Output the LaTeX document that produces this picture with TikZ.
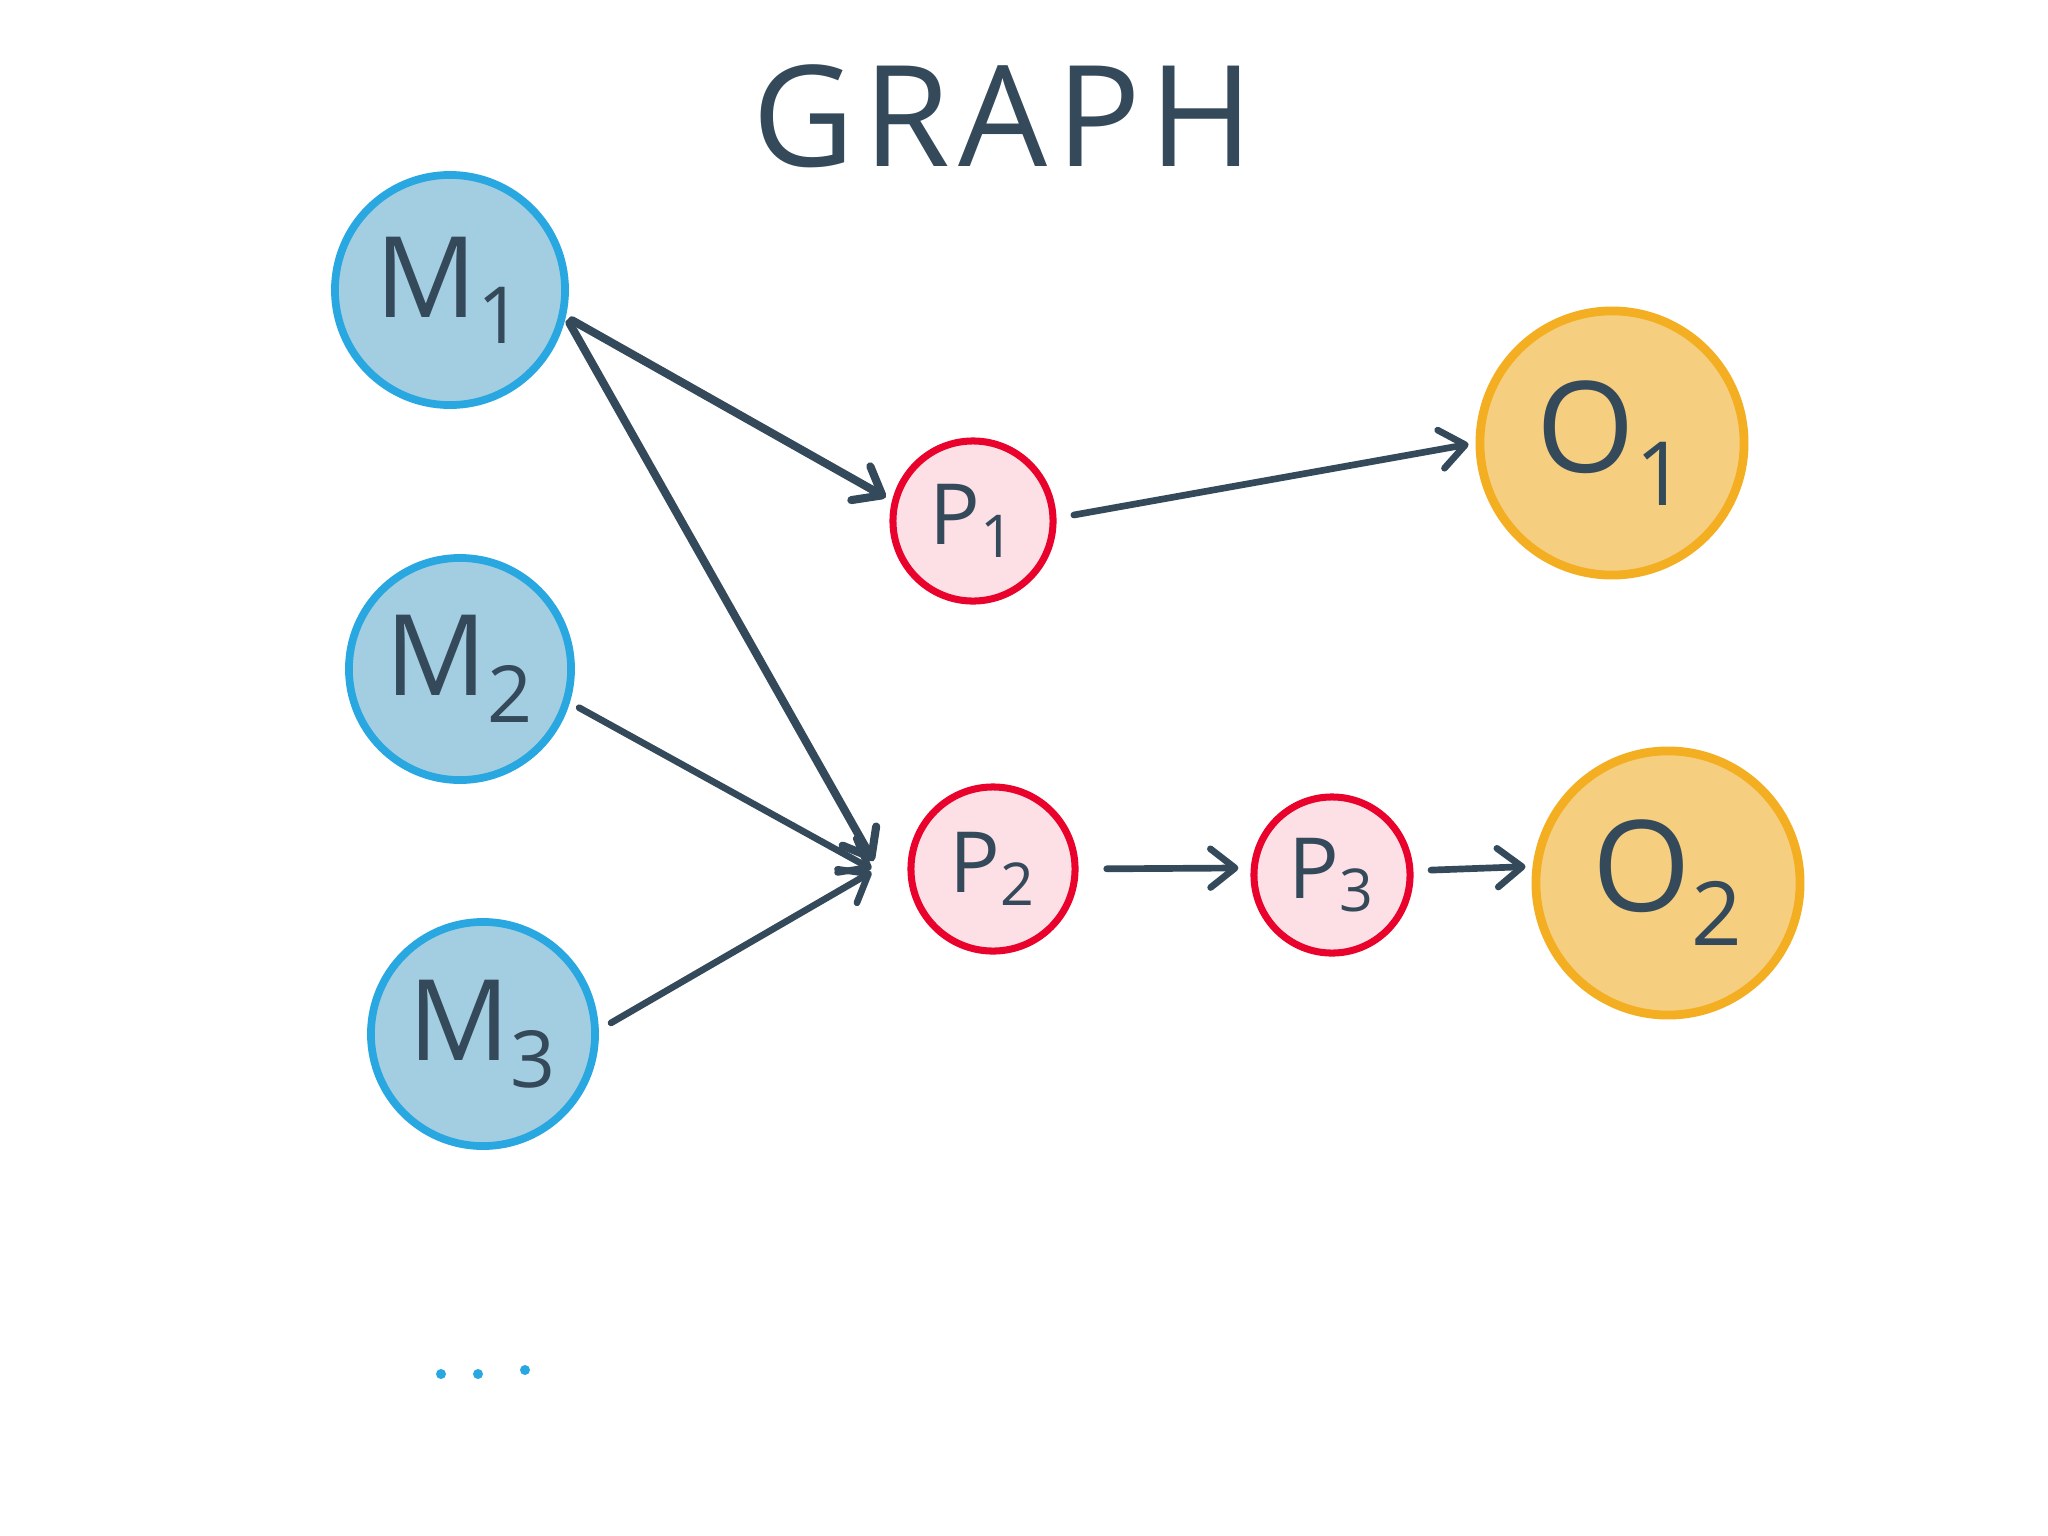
\documentclass[tikz,border=0pt]{standalone}
\usepackage{fontspec}
\setmainfont{Open Sans}
\newfontfamily\titlefont[LetterSpace=6]{Open Sans}
\usetikzlibrary{arrows.meta}
\definecolor{mfill}{HTML}{A3CDE0}
\definecolor{mline}{HTML}{29A7E1}
\definecolor{pfill}{HTML}{FCE0E5}
\definecolor{pline}{HTML}{E8022C}
\definecolor{ofill}{HTML}{F5CF7F}
\definecolor{oline}{HTML}{F4AE22}
\definecolor{ink}{HTML}{34495A}
\tikzset{
  mnode/.style={circle, draw=mline, fill=mfill, line width=2.2pt, inner sep=0pt, text=ink, font=\fontsize{32}{36}\selectfont},
  pnode/.style={circle, draw=pline, fill=pfill, line width=2pt, inner sep=0pt, text=ink, font=\fontsize{24}{28}\selectfont},
  onode/.style={circle, draw=oline, fill=ofill, line width=2.5pt, inner sep=0pt, text=ink, font=\fontsize{36}{40}\selectfont},
  link/.style={draw=ink, line width=1.9pt, line cap=round, -{Straight Barb[length=7pt, width=11pt, line cap=round, line join=round]}},
  dotnode/.style={circle, fill=mline, inner sep=0pt, minimum size=0.1cm},
}
\begin{document}
\begin{tikzpicture}[x=0.01cm, y=-0.01cm]
\fill[white] (0,0) rectangle (2048,1536);
\useasboundingbox (0,0) rectangle (2048,1536);

\node[text=ink, font=\titlefont\fontsize{40}{44}\selectfont] (title) at (1003,116) {GRAPH};

\node[mnode, minimum size=2.30cm] (M1) at (450,290) {M\textsubscript{1}};
\node[mnode, minimum size=2.22cm] (M2) at (460,669) {M\textsubscript{2}};
\node[mnode, minimum size=2.24cm] (M3) at (483,1034) {M\textsubscript{3}};

\node[pnode, minimum size=1.60cm] (P1) at (973,521) {P\textsubscript{1}};
\node[pnode, minimum size=1.64cm] (P2) at (993,869) {P\textsubscript{2}};
\node[pnode, minimum size=1.56cm] (P3) at (1332,875) {P\textsubscript{3}};

\node[onode, minimum size=2.64cm] (O1) at (1612,443) {O\textsubscript{1}};
\node[onode, minimum size=2.64cm] (O2) at (1668,883) {O\textsubscript{2}};

\node[dotnode] (d1) at (441,1374) {};
\node[dotnode] (d2) at (478,1374) {};
\node[dotnode] (d3) at (525,1370) {};

\draw[link, line width=2.3pt, shorten <=2pt, shorten >=2pt] (M1.-13) -- (P1.166);
\draw[link, line width=2.3pt, shorten <=2pt] (M1.-13) -- ([xshift=-0.34cm, yshift=0.08cm]P2.west);
\draw[link, shorten <=3pt] (M2.-17) -- ([xshift=-0.36cm]P2.west);
\draw[link, shorten <=4pt] (M3.2) -- ([xshift=-0.36cm, yshift=-0.03cm]P2.west);
\draw[link, shorten <=5pt, shorten >=2pt] (P1.2) -- (O1.west);
\draw[link, shorten <=8pt, shorten >=3.5pt] (P2.east) -- (P3.175);
\draw[link, shorten <=5pt, shorten >=2pt] (P3.3) -- (O2.173);
\end{tikzpicture}
\end{document}
